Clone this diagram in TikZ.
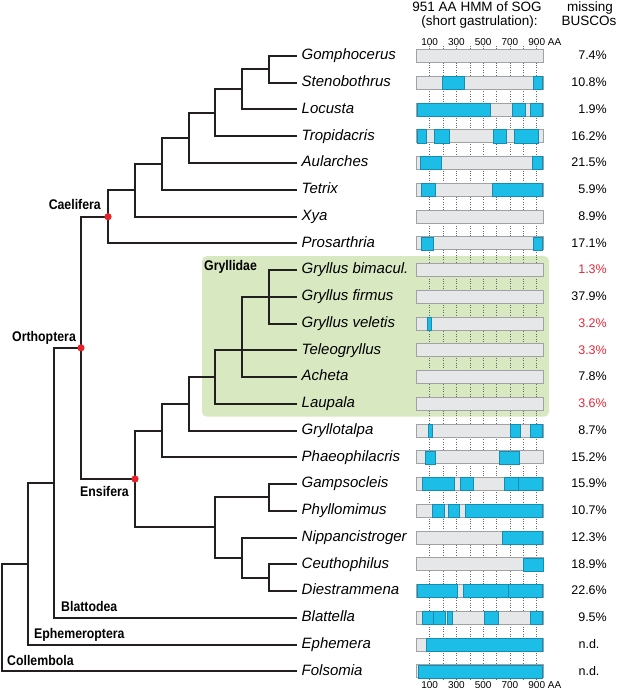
\documentclass[tikz,border=0pt]{standalone}
\usepackage{fontspec}
\setmainfont{Liberation Sans}
\newfontfamily\cladefont[FakeStretch=0.88]{Liberation Sans}
\usetikzlibrary{positioning}

\definecolor{treeblack}{RGB}{35,31,32}
\definecolor{gryllgreen}{RGB}{216,232,192}
\definecolor{bargray}{RGB}{230,231,232}
\definecolor{barline}{RGB}{160,162,165}
\definecolor{hitcyan}{RGB}{28,189,230}
\definecolor{hitline}{RGB}{22,140,180}
\definecolor{dotred}{RGB}{232,32,40}
\definecolor{pctred}{RGB}{228,40,55}

\begin{document}
\begin{tikzpicture}[
  x=1pt, y=-1pt,
  branch/.style={line width=2pt, draw=treeblack},
  taxon/.style={anchor=west, inner xsep=4.5pt, inner ysep=0pt, text height=11pt, text depth=3.5pt,
    font=\itshape\fontsize{15}{18}\selectfont},
  clade/.style={anchor=base west, inner sep=0pt, font=\cladefont\bfseries\fontsize{14}{16}\selectfont},
  pct/.style={anchor=base east, inner sep=0pt, font=\fontsize{12.5}{15}\selectfont},
  head/.style={anchor=base, inner sep=0pt, font=\fontsize{13.5}{16}\selectfont},
  tick/.style={anchor=base, inner sep=0pt, font=\fontsize{10}{12}\selectfont},
  grid/.style={draw=black!60, line width=0.6pt, dash pattern=on 0.8pt off 1.6pt},
  sogbar/.style={fill=bargray, draw=barline, line width=0.6pt},
  hit/.style={fill=hitcyan, draw=hitline, line width=0.5pt},
  node dot/.style={fill=dotred}
  ]
  \useasboundingbox (0,0) rectangle (617,690);

  % Gryllidae box
  \fill[gryllgreen, rounded corners=5pt] (202,256) rectangle (549,416.7);

  % headers
  \node[head] (title1) at (477,11.8) {951 AA HMM of SOG};
  \node[head] (title2) at (479.5,25.3) {(short gastrulation):};
  \node[head] (busco1) at (590,11.8) {missing};
  \node[head] (busco2) at (589,25.3) {BUSCOs};

  % taxa
  \foreach \i/\t in {1/Gomphocerus, 2/Stenobothrus, 3/Locusta, 4/Tropidacris,
      5/Aularches, 6/Tetrix, 7/Xya, 8/Prosarthria, 9/Gryllus bimacul.,
      10/Gryllus firmus, 11/Gryllus veletis, 12/Teleogryllus, 13/Acheta,
      14/Laupala, 15/Gryllotalpa, 16/Phaeophilacris, 17/Gampsocleis,
      18/Phyllomimus, 19/Nippancistroger, 20/Ceuthophilus, 21/Diestrammena,
      22/Blattella, 23/Ephemera, 24/Folsomia}
    \node[taxon] (tip\i) at (297,{56+26.75*(\i-1)}) {\t};

  % internal nodes
  \coordinate (c1) at (269,69.38);
  \coordinate (c2) at (242,89.44);
  \coordinate (c3) at (215,112.84);
  \coordinate (c4) at (189,137.92);
  \coordinate (c5) at (162,163.84);
  \coordinate (c6) at (135,190.17);
  \coordinate (cael) at (108,216.71);
  \coordinate (g3) at (269,296.75);
  \coordinate (g4) at (242,350.25);
  \coordinate (g5) at (215,377);
  \coordinate (g6) at (189,403.75);
  \coordinate (g7) at (162,430.5);
  \coordinate (t1) at (269,497.38);
  \coordinate (t2) at (269,577.63);
  \coordinate (t3) at (242,557.56);
  \coordinate (t4) at (215,527.47);
  \coordinate (ens) at (135,478.98);
  \coordinate (orth) at (81,347.85);
  \coordinate (ins) at (54,482.8);
  \coordinate (hex) at (28,563.65);
  \coordinate (root) at (1.5,617.45);

  % branches
  \foreach \p/\c in {c1/tip1.west, c1/tip2.west, c2/c1, c2/tip3.west, c3/c2, c3/tip4.west,
      c4/c3, c4/tip5.west, c5/c4, c5/tip6.west, c6/c5, c6/tip7.west, cael/c6, cael/tip8.west,
      g3/tip9.west, g3/tip10.west, g3/tip11.west, g4/g3, g4/tip12.west, g4/tip13.west,
      g5/g4, g5/tip14.west, g6/g5, g6/tip15.west, g7/g6, g7/tip16.west,
      t1/tip17.west, t1/tip18.west, t2/tip20.west, t2/tip21.west, t3/tip19.west, t3/t2,
      t4/t1, t4/t3, ens/g7, ens/t4, orth/cael, orth/ens, ins/orth, ins/tip22.west,
      hex/ins, hex/tip23.west, root/hex, root/tip24.west}
    \draw[branch] (\p) |- (\c);

  \foreach \n in {cael, orth, ens}
    \fill[node dot] (\n) circle (3.6pt);

  % clade labels
  \node[clade, anchor=base east] (caelifera) at (101,209.5) {Caelifera};
  \node[clade] (orthoptera) at (12,341.3) {Orthoptera};
  \node[clade] (ensifera) at (80,496.5) {Ensifera};
  \node[clade] (blattodea) at (61,611.5) {Blattodea};
  \node[clade] (ephemeroptera) at (34,638) {Ephemeroptera};
  \node[clade] (collembola) at (7,665) {Collembola};
  \node[clade] (gryllidae) at (204,270.5) {Gryllidae};

  % SOG bars, 1 unit = 1 AA
  \begin{scope}[shift={(416.3,29.25)}, x=0.1338pt, y=-26.75pt]
    \foreach \k in {100,200,...,900}
      \draw[grid] (\k,0.62) -- (\k,24.35);
    \foreach \r in {1,...,24}
      \draw[sogbar] (0,\r-0.243) rectangle (951,\r+0.243);
    \foreach \r/\a/\b in {2/194/359, 2/877/942,
        3/5/556, 3/715/815, 3/850/942,
        4/5/72, 4/135/247, 4/575/670, 4/732/909,
        5/32/189, 5/867/942,
        6/40/144, 6/565/942,
        8/37/125, 8/872/942,
        11/82/110,
        15/87/120, 15/700/780, 15/855/944,
        16/67/140, 16/618/772,
        17/47/282, 17/326/429, 17/658/762, 17/762/942,
        18/117/209, 18/239/321, 18/369/942,
        19/640/942,
        20/800/949,
        21/5/309, 21/354/688, 21/688/942,
        22/47/127, 22/127/214, 22/232/272, 22/508/615, 22/852/944,
        23/72/944,
        24/15/942}
      \draw[hit] (\a,\r-0.243) rectangle (\b,\r+0.243);
    \foreach \k in {100,300,500,700,900} {
      \node[tick] (top\k) at (\k,0.589) {\k};
      \node[tick] (bot\k) at (\k,24.66) {\k};
    }
  \end{scope}
  \node[tick, anchor=base west] (topaa) at ([xshift=2.4pt]top900.base east) {AA};
  \node[tick, anchor=base west] (botaa) at ([xshift=2.4pt]bot900.base east) {AA};

  % missing BUSCOs
  \foreach \i/\p/\c in {1/7.4/black, 2/10.8/black, 3/1.9/black, 4/16.2/black,
      5/21.5/black, 6/5.9/black, 7/8.9/black, 8/17.1/black, 9/1.3/pctred,
      10/37.9/black, 11/3.2/pctred, 12/3.3/pctred, 13/7.8/black, 14/3.6/pctred,
      15/8.7/black, 16/15.2/black, 17/15.9/black, 18/10.7/black, 19/12.3/black,
      20/18.9/black, 21/22.6/black, 22/9.5/black}
    \node[pct, text=\c] (miss\i) at (607,{59.75+26.75*(\i-1)}) {\p\%};
  \node[pct, anchor=base] (miss23) at (589,648.25) {n.d.};
  \node[pct, anchor=base] (miss24) at (589,675) {n.d.};
\end{tikzpicture}
\end{document}
